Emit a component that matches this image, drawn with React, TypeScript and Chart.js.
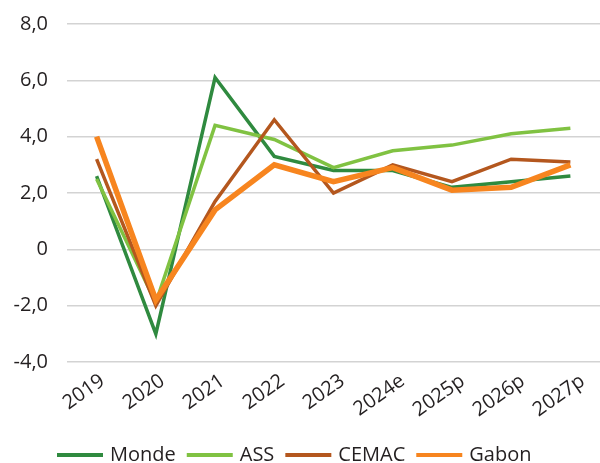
import React, { useEffect, useRef } from "react";
import { Chart, registerables } from "chart.js";

Chart.register(...registerables);

const categories = ["2019", "2020", "2021", "2022", "2023", "2024e", "2025p", "2026p", "2027p"];
const monde = [2.6, -3.0, 6.1, 3.3, 2.8, 2.8, 2.2, 2.4, 2.6];
const ass = [2.5, -1.9, 4.4, 3.9, 2.9, 3.5, 3.7, 4.1, 4.3];
const cemac = [3.2, -2.0, 1.7, 4.6, 2.0, 3.0, 2.4, 3.2, 3.1];
const gabon = [4.0, -1.8, 1.4, 3.0, 2.4, 2.9, 2.1, 2.2, 3.0];
const yTicks = [-4, -2, 0, 2, 4, 6, 8];

const FONT = "'Open Sans', 'Noto Sans', sans-serif";
const TEXT = "#231f20";

const xLabelPlugin = {
  id: "xLabels",
  afterDraw(chart: any) {
    const ctx = chart.ctx;
    const xs = chart.scales.x;
    const labels = chart.data.labels as string[];
    ctx.save();
    ctx.font = `20px ${FONT}`;
    ctx.fillStyle = TEXT;
    ctx.textAlign = "right";
    ctx.textBaseline = "middle";
    labels.forEach((lab, i) => {
      const x = xs.getPixelForTick(i);
      ctx.save();
      ctx.translate(x + 6 + 0.8 * i, xs.top + 17);
      ctx.rotate((-35 * Math.PI) / 180);
      ctx.fillText(lab, 0, 0);
      ctx.restore();
    });
    ctx.restore();
  },
};

const legendPlugin = {
  id: "customLegend",
  afterDraw(chart: any) {
    const ctx = chart.ctx;
    ctx.save();
    ctx.font = `20px ${FONT}`;
    ctx.textAlign = "left";
    ctx.textBaseline = "middle";
    let x = 57;
    const y = 455;
    chart.data.datasets.forEach((ds: any) => {
      ctx.fillStyle = ds.borderColor;
      ctx.fillRect(x, y - 2, 46, 4);
      x += 46 + 7;
      ctx.fillStyle = TEXT;
      ctx.fillText(ds.label, x, y);
      x += ctx.measureText(ds.label).width + 11;
    });
    ctx.restore();
  },
};

export default function App() {
  const ref = useRef<HTMLCanvasElement | null>(null);

  useEffect(() => {
    document.body.style.margin = "0";
    const ctx = ref.current!.getContext("2d")!;
    const mk = (label: string, data: number[], color: string, width: number, order: number) => ({
      label,
      data,
      borderColor: color,
      backgroundColor: color,
      borderWidth: width,
      pointRadius: 0,
      tension: 0,
      order,
    });
    const chart = new Chart(ctx, {
      type: "line",
      data: {
        labels: categories,
        datasets: [
          mk("Monde", monde, "#2f8a3f", 3.5, 4),
          mk("ASS", ass, "#80c242", 3.5, 3),
          mk("CEMAC", cemac, "#b4571e", 3.5, 2),
          mk("Gabon", gabon, "#f7851f", 5.5, 1),
        ],
      },
      plugins: [xLabelPlugin, legendPlugin],
      options: {
        animation: false,
        responsive: false,
        layout: { padding: { top: 24, right: 0, left: 0, bottom: 0 } },
        plugins: {
          tooltip: { enabled: false },
          legend: { display: false },
        },
        scales: {
          x: {
            offset: true,
            grid: { display: false },
            border: { display: false },
            ticks: { display: false },
            afterFit: (s: any) => {
              s.height = 101;
              s.paddingLeft = 0;
              s.paddingRight = 0;
            },
          },
          y: {
            min: -4,
            max: 8,
            afterBuildTicks: (s: any) => {
              s.ticks = yTicks.map((v) => ({ value: v }));
            },
            grid: { color: "#d3d3d3", lineWidth: 1.5, drawTicks: false },
            border: { display: false },
            ticks: {
              font: { family: FONT, size: 20 },
              color: TEXT,
              padding: 19,
              callback: (v: any) => (v === 0 ? "0" : Number(v).toFixed(1).replace(".", ",")),
            },
            afterFit: (s: any) => {
              s.width = 67;
              s.paddingTop = 0;
              s.paddingBottom = 0;
            },
          },
        },
      },
    });
    return () => chart.destroy();
  }, []);

  return (
    <div style={{ width: 600, height: 463 }}>
      <canvas ref={ref} width={600} height={463} style={{ display: "block" }} />
    </div>
  );
}
